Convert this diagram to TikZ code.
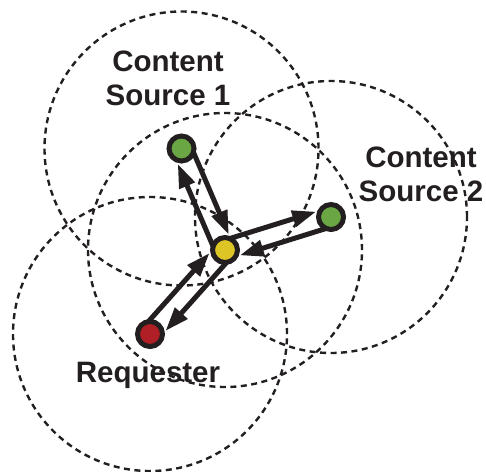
\documentclass[tikz,border=0pt]{standalone}
\usepackage{fontspec}
\setmainfont{Liberation Sans}
\usetikzlibrary{arrows.meta,calc}

\definecolor{ink}{RGB}{35,31,32}
\definecolor{srcgreen}{RGB}{106,167,68}
\definecolor{hubyellow}{RGB}{222,197,38}
\definecolor{reqred}{RGB}{176,31,38}

% one directed hop between two peers, kept on the left side of travel
\newcommand\peerflow[2]{%
  \draw[hopline] ($(#1)!5pt!(#2)!9.5pt!90:(#2)$) -- ($(#2)!12.5pt!(#1)!9.5pt!-90:(#1)$);}

\begin{document}
\begin{tikzpicture}[x=1pt,y=-1pt,
  coverage/.style={draw=ink, line width=2.4pt, dash pattern=on 6pt off 4.5pt},
  peer/.style={circle, draw=ink, line width=5pt, minimum size=25pt, inner sep=0pt},
  hopline/.style={draw=ink, line width=5pt, -{Triangle[length=24pt,width=16pt]}},
  nametext/.style={font=\bfseries\fontsize{29.5}{33.5}\selectfont, align=center, text=ink}]

\useasboundingbox (0,0) rectangle (486,471);

% peer positions
\coordinate (s1c) at (181.5,148.5);
\coordinate (s2c) at (331,217);
\coordinate (hubc) at (225,250);
\coordinate (reqc) at (150,334);

% radio ranges
\draw[coverage] (s1c) circle[radius=137pt];
\draw[coverage] (s2c) circle[radius=136pt];
\draw[coverage] (hubc) circle[radius=137pt];
\draw[coverage] (reqc) circle[radius=137pt];

% labels (base = baseline of the last line)
\node[nametext, anchor=base] (l1) at (168,105) {Content\\Source 1};
\node[nametext, anchor=base] (l2) at (421,201) {Content\\Source 2};
\node[nametext, anchor=base] (l3) at (148,382) {Requester};

% request / reply flows
\peerflow{hubc}{s1c}
\peerflow{s1c}{hubc}
\peerflow{hubc}{s2c}
\peerflow{s2c}{hubc}
\peerflow{reqc}{hubc}
\peerflow{hubc}{reqc}

% peers
\node[peer, fill=srcgreen] (s1) at (s1c) {};
\node[peer, fill=srcgreen] (s2) at (s2c) {};
\node[peer, fill=hubyellow] (hub) at (hubc) {};
\node[peer, fill=reqred] (req) at (reqc) {};
\end{tikzpicture}
\end{document}
